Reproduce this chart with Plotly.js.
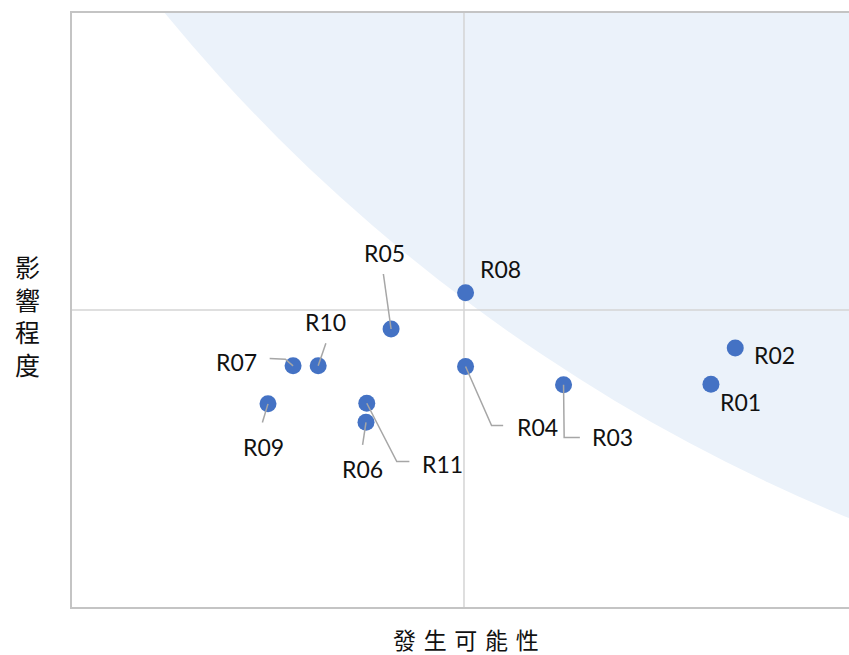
<!DOCTYPE html>
<html><head><meta charset="utf-8">
<script src="https://cdn.plot.ly/plotly-3.0.1.min.js"></script>
<style>html,body{margin:0;padding:0;background:#fff}</style>
</head><body>
<div id="chart" style="width:849px;height:655px"></div>
<script>
// ---- data ----
const riskIds    = ['R01','R02','R03','R04','R05','R06','R07','R08','R09','R10','R11'];
const likelihood = [8.15, 8.46, 6.27, 5.02, 4.07, 3.75, 2.82, 5.02, 2.50, 3.14, 3.76];
const impact     = [3.75, 4.36, 3.74, 4.05, 4.68, 3.11, 4.06, 5.29, 3.42, 4.06, 3.43];
const xTitle = '發生可能性';
const yTitle = '影響程度';

// ---- label placement (pixel offsets from marker, +right / +down) ----
const labelDx = [29.8, 39.5, 49.3, 71.6, -7.0, -3.7, -56.5, 35.1, -4.5, 7.2, 75.5];
const labelDy = [17.5,  7.2, 52.5, 60.5, -75.7, 46.9, -4.0, -24.0, 43.5, -44.0, 60.9];
// leader polylines in pixel offsets from marker
const leaderPaths = {
  R03: [[0,0],[0.6,52.7],[16.3,52.7]],
  R04: [[0,0],[26,59],[37.6,59]],
  R05: [[0,0],[-7.7,-55]],
  R06: [[0,0],[-3.4,22.7]],
  R07: [[0,0],[-7.7,-6.7],[-23.4,-7.3]],
  R09: [[0,0],[-5.6,18.7]],
  R10: [[0,0],[7.7,-22.7]],
  R11: [[0,0],[30,58.3],[42.6,58.3]]
};

// ---- layout geometry ----
const W = 849, H = 655;
const M = {l:72, r:0, t:13, b:48};
const X_RANGE = [0, 9.911];
const Y_RANGE = [0, 10];
const MID = 5;
const PX_X = (W - M.l - M.r) / (X_RANGE[1] - X_RANGE[0]);
const PX_Y = (H - M.t - M.b) / (Y_RANGE[1] - Y_RANGE[0]);
// risk zone (ellipse, data units)
const zone = {x0:-3.88, x1:40.58, y0:-0.70, y1:57.98};

const lx = [], ly = [];
riskIds.forEach((id, i) => {
  const p = leaderPaths[id];
  if (!p) return;
  p.forEach(([dx, dy]) => { lx.push(likelihood[i] + dx / PX_X); ly.push(impact[i] - dy / PX_Y); });
  lx.push(null); ly.push(null);
});

const traces = [
  {type:'scatter', mode:'markers', x:likelihood, y:impact, text:riskIds,
   marker:{color:'#4472C4', size:17, line:{width:0}}, hoverinfo:'skip', cliponaxis:false},
  {type:'scatter', mode:'lines', x:lx, y:ly, line:{color:'#a6a6a6', width:1.5},
   hoverinfo:'skip', connectgaps:false, cliponaxis:false}
];

const labelFont = {family:'Lato, "Open Sans", sans-serif', size:23, color:'#111'};
const annotations = riskIds.map((id, i) => ({
  x: likelihood[i], y: impact[i], xref:'x', yref:'y', text:id, showarrow:false,
  xshift: labelDx[i], yshift: -labelDy[i], xanchor:'center', yanchor:'middle', font:labelFont
}));
const titleFont = {family:'"Noto Sans CJK TC", sans-serif', size:23, color:'#111'};
annotations.push({
  x: MID, xref:'x', y: Y_RANGE[0], yref:'y', yshift:-32, xshift:2,
  text: xTitle.split('').join('\u2004'), showarrow:false, xanchor:'center', yanchor:'middle', font:titleFont
});
annotations.push({
  x: 0, xref:'paper', xshift:-45, y: MID, yref:'y', yshift:-5,
  text: yTitle.split('').join('<br>'), showarrow:false, xanchor:'center', yanchor:'middle',
  font:{family:'"Noto Sans CJK TC", sans-serif', size:25, color:'#111'}
});

const layout = {
  width: W, height: H, margin: M, showlegend:false,
  paper_bgcolor:'#fff', plot_bgcolor:'#fff', hovermode:false,
  xaxis:{range:X_RANGE, showgrid:false, zeroline:false, showticklabels:false, ticks:'',
         showline:true, mirror:true, linecolor:'#c4c4c4', linewidth:2, fixedrange:true},
  yaxis:{range:Y_RANGE, showgrid:false, zeroline:false, showticklabels:false, ticks:'',
         showline:true, mirror:false, linecolor:'#c4c4c4', linewidth:2, fixedrange:true},
  shapes:[
    {type:'circle', xref:'x', yref:'y', x0:zone.x0, x1:zone.x1, y0:zone.y0, y1:zone.y1,
     fillcolor:'#ebf2fa', line:{width:0}, layer:'below'},
    {type:'line', xref:'x', yref:'y', x0:MID, x1:MID, y0:Y_RANGE[0], y1:Y_RANGE[1],
     line:{color:'#d4d4d4', width:1.5}, layer:'below'},
    {type:'line', xref:'x', yref:'y', x0:X_RANGE[0], x1:X_RANGE[1], y0:MID, y1:MID,
     line:{color:'#d4d4d4', width:1.5}, layer:'below'}
  ],
  annotations: annotations
};

Plotly.newPlot('chart', traces, layout, {displayModeBar:false, staticPlot:true});
</script>
</body></html>
